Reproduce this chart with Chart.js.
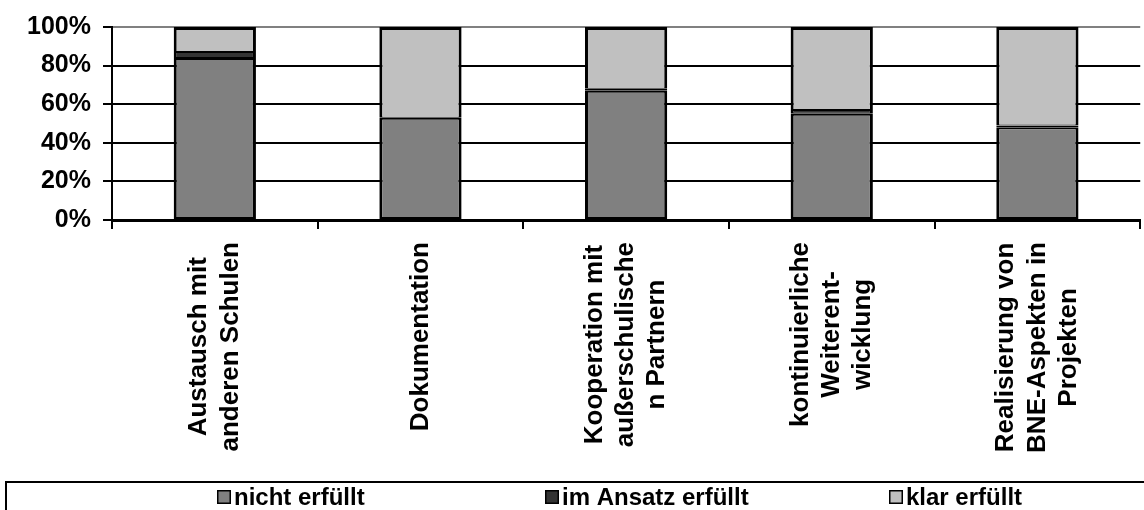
<!DOCTYPE html>
<html>
<head>
<meta charset="utf-8">
<script src="https://cdn.jsdelivr.net/npm/chart.js@4/dist/chart.umd.min.js"></script>
<style>
  html, body { margin: 0; padding: 0; background: #fff; overflow: hidden; }
  #c { display: block; }
</style>
</head>
<body>
<canvas id="c" width="1144" height="510"></canvas>
<script>
// Categories (multi-line axis labels)
const categories = [
  ["Austausch mit", "anderen Schulen"],
  ["Dokumentation"],
  ["Kooperation mit", "außerschulische", "n Partnern"],
  ["kontinuierliche", "Weiterent-", "wicklung"],
  ["Realisierung von", "BNE-Aspekten in", "Projekten"]
];
const seriesNames = ["nicht erfüllt", "im Ansatz erfüllt", "klar erfüllt"];
// Shares in percent per category
const nichtErfuellt = [84, 53, 67, 55, 48];
const imAnsatzErfuellt = [3, 0, 1, 2, 1];
const klarErfuellt = [13, 47, 32, 43, 51];
const yTickValues = [0, 20, 40, 60, 80, 100];

const FONT = "'Liberation Sans', Arial, Helvetica, sans-serif";
const seriesColors = ["#808080", "#333333", "#C0C0C0"];

// Rotated multi-line category labels: centre the lines on each other and the block on the tick
const centerTickLines = {
  id: 'centerTickLines',
  beforeDraw(chart) {
    const scale = chart.scales.x;
    const items = scale.getLabelItems();
    if (items._centered) return;
    const ctx = chart.ctx;
    items.forEach((item, i) => {
      const lines = Array.isArray(item.label) ? item.label : [item.label];
      ctx.save();
      ctx.font = item.font.string;
      const maxW = Math.max(...lines.map(l => ctx.measureText(l).width));
      ctx.restore();
      const lh = item.font.lineHeight;
      const topY = scale.top + 9 + 13;
      item.options.textAlign = 'center';
      item.options.textBaseline = 'middle';
      item.options.translation = [scale.getPixelForTick(i), topY + maxW / 2];
      item.textOffset = -(lines.length - 1) * lh / 2;
    });
    items._centered = true;
  }
};

// Framed legend row beneath the axis labels
const framedLegend = {
  id: 'framedLegend',
  afterDraw(chart) {
    const ctx = chart.ctx;
    const xs = [217, 545, 889];
    const yMid = 497;
    ctx.save();
    ctx.strokeStyle = '#000';
    ctx.lineWidth = 2;
    ctx.strokeRect(6, 482, 1160, 60);
    ctx.font = 'bold 24px ' + FONT;
    ctx.textBaseline = 'middle';
    ctx.textAlign = 'left';
    chart.data.datasets.forEach((ds, i) => {
      const x = xs[i];
      ctx.fillStyle = ds.backgroundColor;
      ctx.fillRect(x, yMid - 7, 14, 14);
      ctx.lineWidth = 1.5;
      ctx.strokeRect(x + 0.75, yMid - 6.25, 12.5, 12.5);
      ctx.fillStyle = '#000';
      ctx.fillText(ds.label, x + 17, yMid + 1);
    });
    ctx.restore();
  }
};

const segBorders = [
  { top: 2, bottom: 2, left: 3, right: 3 },
  { top: 1, bottom: 1, left: 3, right: 3 },
  { top: 3, bottom: 1, left: 3, right: 3 }
];
const seriesValues = [nichtErfuellt, imAnsatzErfuellt, klarErfuellt];

new Chart(document.getElementById('c'), {
  type: 'bar',
  data: {
    labels: categories,
    datasets: seriesNames.map((name, i) => ({
      label: name,
      data: seriesValues[i],
      backgroundColor: seriesColors[i],
      borderColor: '#000',
      borderWidth: segBorders[i],
      borderSkipped: false,
      inflateAmount: 0,
      categoryPercentage: 1.0,
      barPercentage: 0.4
    }))
  },
  options: {
    responsive: false,
    animation: false,
    devicePixelRatio: 1,
    layout: { padding: { top: 23, left: 0, right: 0, bottom: 30 } },
    plugins: {
      legend: { display: false },
      tooltip: { enabled: false }
    },
    scales: {
      x: {
        stacked: true,
        offset: true,
        afterFit(scale) { scale.height = 260; },
        grid: {
          offset: true,
          drawOnChartArea: false,
          drawTicks: true,
          tickLength: 9,
          color: '#000',
          lineWidth: 2
        },
        border: { display: true, color: '#000', width: 3 },
        ticks: {
          autoSkip: false,
          minRotation: 90,
          maxRotation: 90,
          padding: 13,
          color: '#000',
          font: { family: FONT, size: 26, weight: 'bold', lineHeight: 1.2 }
        }
      },
      y: {
        stacked: true,
        min: 0,
        max: 100,
        afterFit(scale) { scale.width = 112; },
        afterBuildTicks(scale) { scale.ticks = yTickValues.map(v => ({ value: v })); },
        grid: {
          color: ctx => (ctx.tick && ctx.tick.value === 100 ? '#808080' : '#000'),
          tickColor: '#000',
          lineWidth: 2,
          tickLength: 9,
          drawTicks: true
        },
        border: { display: true, color: '#000', width: 2 },
        ticks: {
          padding: 12,
          color: '#000',
          font: { family: FONT, size: 25, weight: 'bold' },
          callback: v => v + '%'
        }
      }
    }
  },
  plugins: [centerTickLines, framedLegend]
});
</script>
</body>
</html>
